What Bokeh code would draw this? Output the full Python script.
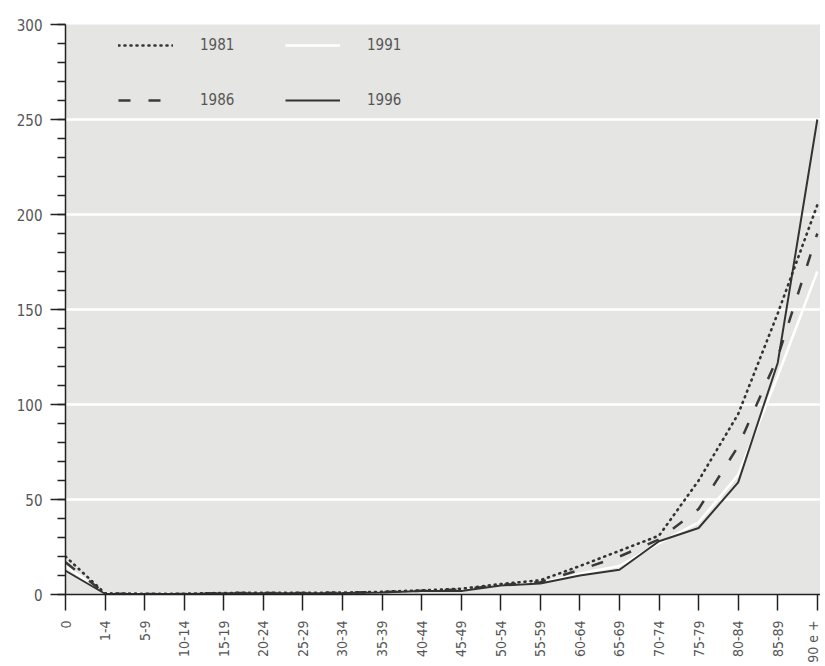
import math
from bokeh.plotting import figure
from bokeh.models import Range1d, FixedTicker, SingleIntervalTicker, Legend, LegendItem, ColumnDataSource
from bokeh.embed import file_html
from bokeh.resources import INLINE

ages = ["0", "1-4", "5-9", "10-14", "15-19", "20-24", "25-29", "30-34", "35-39",
        "40-44", "45-49", "50-54", "55-59", "60-64", "65-69", "70-74", "75-79",
        "80-84", "85-89", "90 e +"]
y1981 = [20, 0.6, 0.4, 0.4, 0.8, 0.9, 0.9, 1.0, 1.4, 2.2, 3.0, 5.5, 7.5, 15, 23, 31, 60, 95, 148, 205]
y1986 = [17, 0.5, 0.3, 0.3, 0.7, 0.8, 0.8, 0.9, 1.3, 2.0, 2.6, 5.0, 6.5, 13, 20, 29, 45, 78, 125, 190]
y1991 = [15, 0.5, 0.3, 0.3, 0.7, 0.8, 0.8, 0.9, 1.2, 1.9, 2.2, 4.8, 6.0, 11, 15, 27, 38, 63, 115, 170]
y1996 = [12.5, 0.4, 0.3, 0.3, 0.6, 0.7, 0.7, 0.8, 1.1, 1.8, 1.8, 4.7, 5.8, 10, 13, 28, 35, 59, 122, 250]

xs = list(range(len(ages)))
src = ColumnDataSource(dict(x=xs, y1981=y1981, y1986=y1986, y1991=y1991, y1996=y1996))

FONT = "DejaVu Sans Condensed"

p = figure(width=820, height=666, output_backend="svg", toolbar_location=None,
           x_range=Range1d(0, 19.08), y_range=Range1d(0, 300),
           min_border_left=65, min_border_right=0, min_border_top=24, min_border_bottom=72)
p.background_fill_color = "#e5e5e3"
p.border_fill_color = "white"
p.outline_line_color = None

# grid
p.xgrid.grid_line_color = None
p.ygrid.grid_line_color = "white"
p.ygrid.grid_line_width = 2.5

# y axis
p.yaxis.ticker = SingleIntervalTicker(interval=50, num_minor_ticks=5)
p.yaxis.axis_line_color = "#222222"
p.yaxis.axis_line_width = 1.5
p.yaxis.major_tick_line_color = "#222222"
p.yaxis.major_tick_line_width = 1.5
p.yaxis.major_tick_out = 15
p.yaxis.major_tick_in = 0
p.yaxis.minor_tick_line_color = "#222222"
p.yaxis.minor_tick_line_width = 1.5
p.yaxis.minor_tick_out = 8
p.yaxis.minor_tick_in = 0
p.yaxis.major_label_text_font = FONT
p.yaxis.major_label_text_font_size = "15px"
p.yaxis.major_label_text_color = "#555555"
p.yaxis.major_label_standoff = 8

# x axis
p.xaxis.ticker = FixedTicker(ticks=xs)
p.xaxis.major_label_overrides = {i: a for i, a in enumerate(ages)}
p.xaxis.major_label_orientation = math.pi / 2
p.xaxis.axis_line_color = "#222222"
p.xaxis.axis_line_width = 1.5
p.xaxis.major_tick_line_color = "#222222"
p.xaxis.major_tick_line_width = 1.5
p.xaxis.major_tick_out = 16
p.xaxis.major_tick_in = 0
p.xaxis.minor_tick_line_color = None
p.xaxis.major_label_text_font = FONT
p.xaxis.major_label_text_font_size = "14px"
p.xaxis.major_label_text_color = "#555555"
p.xaxis.major_label_standoff = 10

r91 = p.line("x", "y1991", source=src, line_color="white", line_width=2.5)
r86 = p.line("x", "y1986", source=src, line_color="#3a3a3a", line_width=2.5,
             line_dash="12 18")
r81 = p.line("x", "y1981", source=src, line_color="#333333", line_width=2.6,
             line_dash="1 5", line_cap="round")
r96 = p.line("x", "y1996", source=src, line_color="#333333", line_width=2)

def make_legend(items, loc):
    lg = Legend(items=items, location=loc, orientation="vertical",
                glyph_width=55, glyph_height=20, spacing=35, padding=0, margin=0,
                label_standoff=27, label_text_font=FONT, label_text_font_size="15px",
                label_text_color="#555555", background_fill_alpha=0,
                border_line_alpha=0, label_height=20)
    return lg

lgA = make_legend([LegendItem(label="1981", renderers=[r81]),
                   LegendItem(label="1986", renderers=[r86])], (53, 484))
lgB = make_legend([LegendItem(label="1991", renderers=[r91]),
                   LegendItem(label="1996", renderers=[r96])], (220, 484))
p.add_layout(lgA, "center")
p.add_layout(lgB, "center")

open("out.html", "w").write(file_html(p, INLINE))
